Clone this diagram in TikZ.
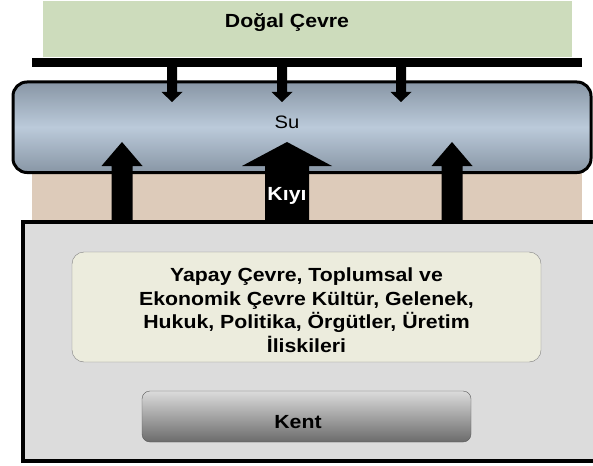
\documentclass[tikz,border=0pt]{standalone}
\usepackage{fontspec}
\setmainfont{Liberation Sans}[FakeStretch=1.12]
\usetikzlibrary{calc}
\definecolor{natgreen}{RGB}{205,220,188}
\definecolor{shoretan}{RGB}{221,203,186}
\definecolor{wateredge}{RGB}{136,150,165}
\definecolor{watermid}{RGB}{187,202,218}
\definecolor{citygray}{RGB}{220,220,220}
\definecolor{cream}{RGB}{236,236,221}
\tikzset{box/.style={rectangle, inner sep=0pt, font=\bfseries\fontsize{19}{23.5}\selectfont}}
\newcommand{\blockarrow}[5]{\fill ($(#1)+(-#3,0)$) -- ($(#2)+(-#3,#5)$) -- ($(#2)+(-#4,#5)$) -- (#2) -- ($(#2)+(#4,#5)$) -- ($(#2)+(#3,#5)$) -- ($(#1)+(#3,0)$) -- cycle;}

\begin{document}
\begin{tikzpicture}[x=1pt,y=-1pt]
\useasboundingbox (0,0) rectangle (593,465);
% natural environment
\node[box, fill=natgreen, minimum width=529pt, minimum height=56pt] (natural) at (307.5,29) {};
\node[box, anchor=base] (natlabel) at (287,28) {Doğal Çevre};
\node[box, fill=black, minimum width=550pt, minimum height=9pt] (bar) at (307,62.5) {};
% shore and water
\node[box, fill=shoretan, minimum width=550pt, minimum height=57pt] (shore) at (307,193.5) {};
\node[box, draw, line width=3pt, rounded corners=14pt, top color=wateredge, bottom color=wateredge, middle color=watermid, minimum width=578pt, minimum height=90.5pt] (water) at (302,127.25) {};
\foreach \x [count=\i] in {172,282,401} {
  \coordinate (d\i) at (\x,102);
  \coordinate (d\i s) at (d\i |- bar.south);
  \blockarrow{d\i s}{d\i}{5}{10.5}{-10}
}
% city
\node[box, fill=citygray, draw, line width=4pt, minimum width=594pt, minimum height=239pt] (city) at (320,341.5) {};
\coordinate (u1) at (122,142);
\coordinate (u2) at (287,142);
\coordinate (u3) at (452,142);
\coordinate (u1s) at (u1 |- city.north);
\coordinate (u2s) at (u2 |- city.north);
\coordinate (u3s) at (u3 |- city.north);
\blockarrow{u1s}{u1}{10.5}{20.5}{24}
\blockarrow{u2s}{u2}{22}{45}{24}
\blockarrow{u3s}{u3}{10.5}{20.5}{24}
\node[box, anchor=base, font=\fontsize{18}{20}\selectfont] (sulabel) at (287,129) {Su};
\node[box, anchor=base, text=white] (shorelabel) at (287,200) {Kıyı};
\node[box, fill=cream, draw=black!50, rounded corners=12pt, minimum width=469pt, minimum height=110pt] (culture) at (306.5,307) {};
\node[box, anchor=base, align=center] (culturelabel) at (306.5,352) {Yapay Çevre, Toplumsal ve\\Ekonomik Çevre Kültür, Gelenek,\\Hukuk, Politika, Örgütler, Üretim\\İliskileri};
\node[box, draw=black!65, rounded corners=8pt, top color=black!14, bottom color=black!58, minimum width=329pt, minimum height=51pt] (kent) at (306.5,416.5) {};
\node[box, anchor=base] (kentlabel) at (298,428) {Kent};
\end{tikzpicture}
\end{document}
